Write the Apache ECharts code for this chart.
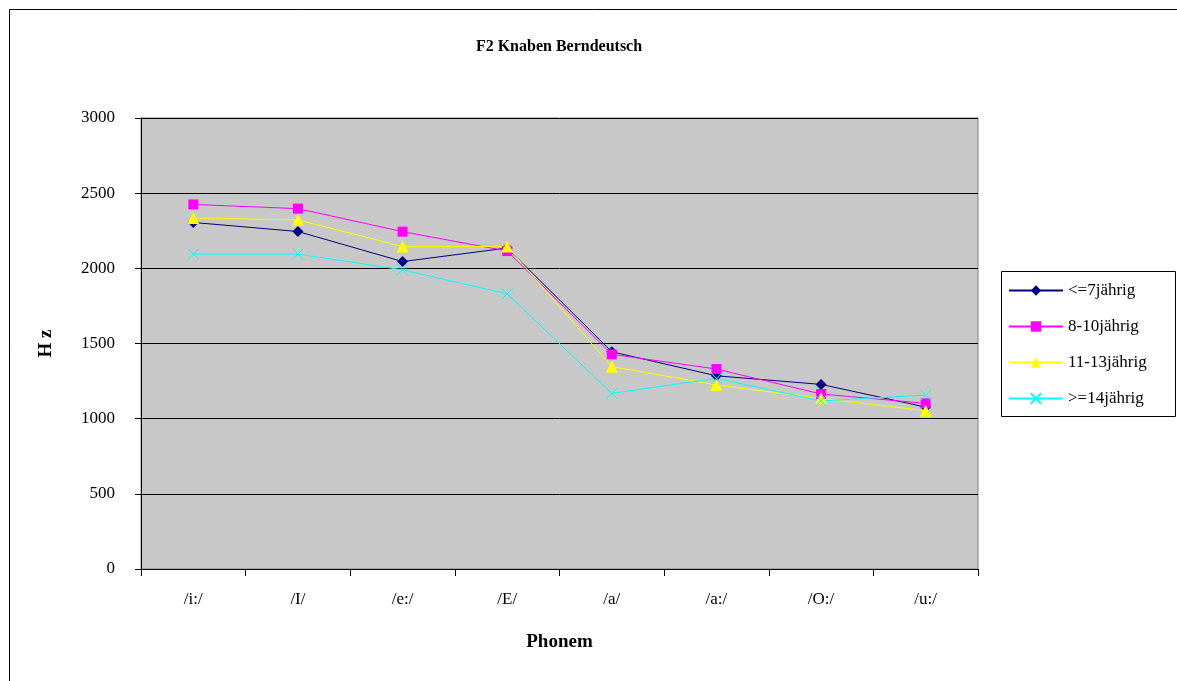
<!DOCTYPE html>
<html>
<head>
<meta charset="utf-8">
<script src="https://cdn.jsdelivr.net/npm/echarts@6/dist/echarts.min.js"></script>
<style>
  html, body { margin: 0; padding: 0; background: #ffffff; }
  #chart { width: 1177px; height: 681px; }
</style>
</head>
<body>
<div id="chart"></div>
<script>
// Phoneme categories on the x axis
const phonemes = ['/i:/', '/I/', '/e:/', '/E/', '/a/', '/a:/', '/O:/', '/u:/'];

// F2 formant values (Hz) per age group
const ageUpTo7 = [2305, 2245, 2045, 2135, 1445, 1285, 1228, 1077];
const age8to10 = [2425, 2397, 2244, 2115, 1428, 1330, 1164, 1102];
const age11to13 = [2335, 2322, 2145, 2145, 1346, 1224, 1135, 1053];
const age14plus = [2095, 2095, 1990, 1830, 1168, 1268, 1118, 1157];

const seriesNames = ['<=7jährig', '8-10jährig', '11-13jährig', '>=14jährig'];
const yTicks = { min: 0, max: 3000, interval: 500 };

const serif = '"Liberation Serif", "DejaVu Serif", serif';
const crossPath = 'path://M0,0L10,10M10,0L0,10';

const chart = echarts.init(document.getElementById('chart'));

function lineSeries(name, data, color, symbol, size, extra) {
  return Object.assign({
    name: name,
    type: 'line',
    data: data,
    symbol: symbol,
    symbolSize: size,
    showAllSymbol: true,
    lineStyle: { color: color, width: 1 },
    itemStyle: { color: color },
    animation: false
  }, extra || {});
}

chart.setOption({
  animation: false,
  backgroundColor: '#ffffff',
  title: {
    text: 'F2 Knaben Berndeutsch',
    left: 554,
    top: 34,
    textAlign: 'center',
    textStyle: { fontFamily: serif, fontSize: 16, fontWeight: 'bold', color: '#000' }
  },
  graphic: [{
    // outer chart frame
    type: 'rect',
    shape: { x: 9.5, y: 9.5, width: 1200, height: 700 },
    style: { fill: 'none', stroke: '#000', lineWidth: 1 },
    silent: true
  }, {
    // legend frame
    type: 'rect',
    z: -1,
    shape: { x: 1001.5, y: 271.5, width: 174, height: 145 },
    style: { fill: '#ffffff', stroke: '#000', lineWidth: 1 },
    silent: true
  }],
  legend: {
    orient: 'vertical',
    left: 1001,
    top: 271,
    padding: [11, 10, 10, 7],
    itemGap: 19,
    itemWidth: 54,
    itemHeight: 13,
    textStyle: { fontFamily: serif, fontSize: 17, color: '#000' },
    data: seriesNames
  },
  grid: { left: 141, top: 118, width: 837, height: 451, show: true, backgroundColor: '#c8c8c8', borderColor: '#808080', borderWidth: 1 },
  xAxis: {
    type: 'category',
    data: phonemes,
    boundaryGap: true,
    name: 'Phonem',
    nameLocation: 'middle',
    nameGap: 64,
    nameTextStyle: { fontFamily: serif, fontSize: 19, fontWeight: 'bold', color: '#000' },
    axisLine: { lineStyle: { color: '#000', width: 1 } },
    axisTick: { show: true, alignWithLabel: false, length: 7, lineStyle: { color: '#000' } },
    axisLabel: { fontFamily: serif, fontSize: 17, color: '#000', margin: 22 },
    splitLine: { show: false }
  },
  yAxis: {
    type: 'value',
    min: yTicks.min,
    max: yTicks.max,
    interval: yTicks.interval,
    name: 'H z',
    nameLocation: 'middle',
    nameGap: 85,
    nameRotate: 90,
    nameTextStyle: { fontFamily: serif, fontSize: 19, fontWeight: 'bold', color: '#000' },
    axisLine: { show: true, lineStyle: { color: '#000', width: 1 } },
    axisTick: { show: true, length: 6, lineStyle: { color: '#000' } },
    axisLabel: { fontFamily: serif, fontSize: 17, color: '#000', margin: 26, formatter: function (v) { return String(v); } },
    splitLine: { show: true, lineStyle: { color: '#000', width: 1 } }
  },
  series: [
    lineSeries(seriesNames[0], ageUpTo7, '#000080', 'diamond', 11),
    lineSeries(seriesNames[1], age8to10, '#ff00ff', 'rect', 10),
    lineSeries(seriesNames[2], age11to13, '#ffff00', 'triangle', 12),
    lineSeries(seriesNames[3], age14plus, '#00ffff', crossPath, 11, {
      itemStyle: { color: '#00ffff', borderColor: '#00ffff', borderWidth: 1 }
    })
  ]
});
</script>
</body>
</html>
